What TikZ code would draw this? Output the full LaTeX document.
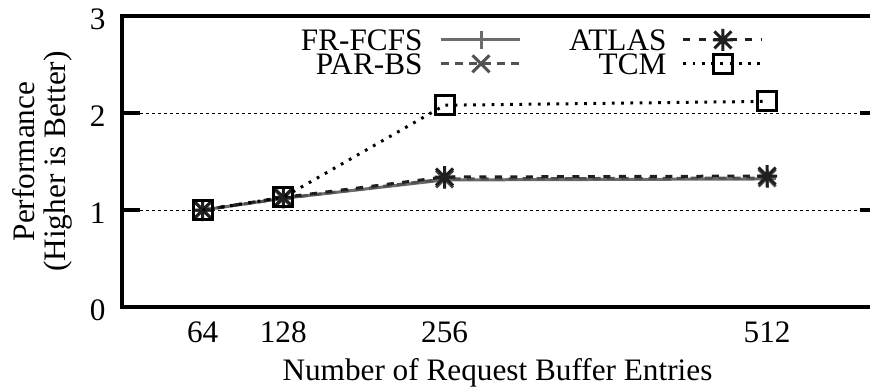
\documentclass[tikz,border=0pt]{standalone}
\usepackage{fontspec}
\setmainfont{Liberation Serif}
\usetikzlibrary{positioning}

\begin{document}
\begin{tikzpicture}[x=0.504pt, y=38.8pt,
        every node/.style={font=\fontsize{12.5}{12.4}\selectfont, inner sep=0pt},
        frcurve/.style={line width=1.2pt, color=black!58},
        parcurve/.style={line width=1.2pt, color=black!68, dash pattern=on 3.2pt off 2.4pt},
        atlascurve/.style={line width=1.2pt, color=black!88, dash pattern=on 2.8pt off 3.4pt},
        tcmcurve/.style={line width=1.2pt, color=black, dash pattern=on 1.1pt off 2.6pt},
        mplus/.pic={\draw[solid] (-3.6pt,0) -- (3.6pt,0) (0,-3.6pt) -- (0,3.6pt);},
        mcross/.pic={\draw[solid] (-3.4pt,-3.4pt) -- (3.4pt,3.4pt) (-3.4pt,3.4pt) -- (3.4pt,-3.4pt);},
        mstar/.pic={\draw[solid] (-4pt,0) -- (4pt,0) (0,-4.4pt) -- (0,4.4pt)
            (-3.4pt,-3.4pt) -- (3.4pt,3.4pt) (-3.4pt,3.4pt) -- (3.4pt,-3.4pt);},
        msquare/.pic={\draw[solid] (-3.8pt,-3.8pt) rectangle (3.8pt,3.8pt);}]
        \clip (-96.83,-0.835) rectangle (593.65,3.165);

        % Grid and frame
        \foreach \v in {1,2} {
            \draw[line width=0.4pt, dash pattern=on 1.3pt off 1.1pt] (14.3,\v) -- (585.7,\v);
            \draw[line width=1.6pt] (0,\v) -- (14.3,\v);
            \draw[line width=1.6pt] (585.7,\v) -- (600,\v);
        }
        \draw[line width=1.6pt] (0,0) rectangle (600,3);

        % Tick labels
        \foreach \v in {0,1,2,3}
            \node[anchor=east, yshift=-1.2pt] (ytick\v) at (-12.7,\v) {\v};
        \foreach \v in {64,128,256,512}
            \node[anchor=base] (xtick\v) at (\v,-0.371) {\v};

        % Axis labels
        \node[anchor=base] (xlabel) at (298,-0.753) {Number of Request Buffer Entries};
        \node[rotate=90, align=center] (ylabel) at (-63.5,1.5) {Performance\\(Higher is Better)};

        % Data points
        \coordinate (fr1) at (64,1.00);  \coordinate (fr2) at (128,1.12);
        \coordinate (fr3) at (256,1.31); \coordinate (fr4) at (512,1.32);
        \coordinate (par1) at (64,1.00);  \coordinate (par2) at (128,1.12);
        \coordinate (par3) at (256,1.32); \coordinate (par4) at (512,1.33);
        \coordinate (atl1) at (64,1.00);  \coordinate (atl2) at (128,1.13);
        \coordinate (atl3) at (256,1.34); \coordinate (atl4) at (512,1.35);
        \coordinate (tcm1) at (64,1.00);  \coordinate (tcm2) at (128,1.13);
        \coordinate (tcm3) at (256,2.08); \coordinate (tcm4) at (512,2.12);

        % FR-FCFS
        \draw[frcurve] (fr1) -- (fr2) -- (fr3) -- (fr4);
        \foreach \p in {fr1,fr2,fr3,fr4} \pic[frcurve] at (\p) {mplus};

        % PAR-BS
        \draw[parcurve] (par1) -- (par2) -- (par3) -- (par4);
        \foreach \p in {par1,par2,par3,par4} \pic[parcurve] at (\p) {mcross};

        % ATLAS
        \draw[atlascurve] (atl1) -- (atl2) -- (atl3) -- (atl4);
        \foreach \p in {atl1,atl2,atl3,atl4} \pic[atlascurve] at (\p) {mstar};

        % TCM
        \draw[tcmcurve] (tcm1) -- (tcm2) -- (tcm3) -- (tcm4);
        \foreach \p in {tcm1,tcm2,tcm3,tcm4} \pic[tcmcurve] at (\p) {msquare};

        % Legend
        \node[anchor=base east] (lfr) at (238.9,2.649) {FR-FCFS};
        \node[anchor=base east] (lpar) at (238.9,2.402) {PAR-BS};
        \node[anchor=base east] (latl) at (432.5,2.649) {ATLAS};
        \node[anchor=base east] (ltcm) at (432.5,2.402) {TCM};
        \draw[frcurve] ([xshift=7.2pt]lfr.east) -- ([xshift=38.6pt]lfr.east);
        \pic[frcurve] at ([xshift=23.2pt]lfr.east) {mplus};
        \draw[parcurve] ([xshift=7.2pt]lpar.east) -- ([xshift=38.6pt]lpar.east);
        \pic[parcurve] at ([xshift=23.2pt]lpar.east) {mcross};
        \draw[atlascurve] ([xshift=6.6pt]latl.east) -- ([xshift=38.2pt]latl.east);
        \pic[atlascurve] at ([xshift=22.4pt]latl.east) {mstar};
        \draw[tcmcurve] ([xshift=6.6pt]ltcm.east) -- ([xshift=38.2pt]ltcm.east);
        \pic[tcmcurve] at ([xshift=22.4pt]ltcm.east) {msquare};
    \end{tikzpicture}
\end{document}
